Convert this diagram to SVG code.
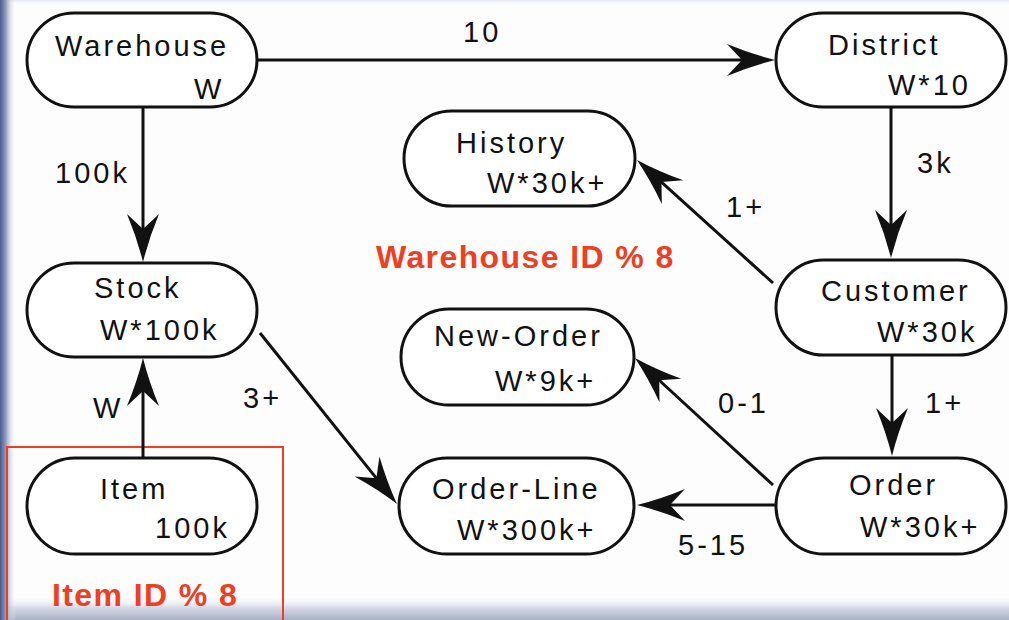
<svg xmlns="http://www.w3.org/2000/svg" width="1009" height="620" viewBox="0 0 1009 620">
  <defs>
    <linearGradient id="edgeLeft" x1="0" y1="0" x2="1" y2="0">
      <stop offset="0" stop-color="#4a5a8e"/>
      <stop offset="0.35" stop-color="#8e9abd"/>
      <stop offset="1" stop-color="#ffffff" stop-opacity="0"/>
    </linearGradient>
    <linearGradient id="edgeBottom" x1="0" y1="0" x2="0" y2="1">
      <stop offset="0" stop-color="#ffffff" stop-opacity="0"/>
      <stop offset="0.5" stop-color="#d4d8e4"/>
      <stop offset="1" stop-color="#aab2c8"/>
    </linearGradient>
    <linearGradient id="edgeTop" x1="0" y1="0" x2="0" y2="1">
      <stop offset="0" stop-color="#e6e9f0"/>
      <stop offset="1" stop-color="#ffffff" stop-opacity="0"/>
    </linearGradient>
    <marker id="arrow" markerUnits="userSpaceOnUse" viewBox="-50 -18 52 36" refX="-20" refY="0" markerWidth="52" markerHeight="36" orient="auto">
      <path d="M0,0 Q-24,-6 -48,-16 L-33,0 L-48,16 Q-24,6 0,0 Z" fill="#111"/>
    </marker>
    <style>
      .node rect { fill: #fff; stroke: #111; stroke-width: 3; }
      .node text, .label { font-family: "Liberation Sans", Arial, sans-serif; font-size: 29px; fill: #111; letter-spacing: 3px; }
      .edge { stroke: #111; stroke-width: 3; fill: none; marker-end: url(#arrow); }
      .part { font-family: "Liberation Sans", Arial, sans-serif; font-size: 32px; font-weight: bold; fill: #ef3e22; letter-spacing: 1.4px; }
    </style>
  </defs>

  <!-- page background with soft slide edges -->
  <rect x="0" y="0" width="1009" height="620" fill="#fdfdfe"/>
  <rect x="0" y="0" width="1009" height="6" fill="url(#edgeTop)"/>
  <rect x="0" y="596" width="1009" height="24" fill="url(#edgeBottom)"/>
  <rect x="0" y="0" width="16" height="620" fill="url(#edgeLeft)"/>

  <!-- partitioning box around Item -->
  <rect x="7" y="447" width="276" height="190" fill="none" stroke="#ef3e22" stroke-width="2"/>
  <text class="part" x="52" y="606">Item ID % 8</text>
  <text class="part" x="376" y="268">Warehouse ID % 8</text>

  <!-- connectors -->
  <g id="edges">
    <line class="edge" x1="258" y1="60" x2="755" y2="60"/>
    <line class="edge" x1="143" y1="108" x2="143" y2="242"/>
    <line class="edge" x1="143" y1="457" x2="143" y2="378"/>
    <line class="edge" x1="891" y1="108" x2="891" y2="238"/>
    <line class="edge" x1="892" y1="356" x2="892" y2="436"/>
    <line class="edge" x1="773" y1="283" x2="651.8" y2="173.4"/>
    <line class="edge" x1="773" y1="485" x2="649.7" y2="371.5"/>
    <line class="edge" x1="260" y1="333" x2="384.5" y2="488.4"/>
    <line class="edge" x1="775" y1="505" x2="657" y2="505"/>
    <text class="label" x="463" y="42">10</text>
    <text class="label" x="55" y="183">100k</text>
    <text class="label" x="917" y="173">3k</text>
    <text class="label" x="726" y="217">1+</text>
    <text class="label" x="243" y="408">3+</text>
    <text class="label" x="93" y="418">W</text>
    <text class="label" x="718" y="413">0-1</text>
    <text class="label" x="925" y="413">1+</text>
    <text class="label" x="678" y="555">5-15</text>
  </g>

  <!-- tables -->
  <g id="warehouse" class="node">
    <rect x="27" y="13" width="230" height="94" rx="47"/>
    <text x="55" y="56">Warehouse</text>
    <text x="194" y="99">W</text>
  </g>
  <g id="district" class="node">
    <rect x="776" y="13" width="230" height="94" rx="47"/>
    <text x="828" y="55">District</text>
    <text x="888" y="95">W*10</text>
  </g>
  <g id="history" class="node">
    <rect x="404" y="111" width="231" height="95" rx="47.5"/>
    <text x="456" y="153">History</text>
    <text x="487" y="193">W*30k+</text>
  </g>
  <g id="stock" class="node">
    <rect x="27" y="263" width="230" height="94" rx="47"/>
    <text x="94" y="298">Stock</text>
    <text x="100" y="340">W*100k</text>
  </g>
  <g id="customer" class="node">
    <rect x="776" y="260" width="230" height="95" rx="47.5"/>
    <text x="821" y="301">Customer</text>
    <text x="877" y="342">W*30k</text>
  </g>
  <g id="new-order" class="node">
    <rect x="401" y="309" width="233" height="96" rx="48"/>
    <text x="434" y="346">New-Order</text>
    <text x="495" y="391">W*9k+</text>
  </g>
  <g id="item" class="node">
    <rect x="27" y="458" width="230" height="96" rx="48"/>
    <text x="100" y="499">Item</text>
    <text x="155" y="538">100k</text>
  </g>
  <g id="order-line" class="node">
    <rect x="399" y="458" width="235" height="96" rx="48"/>
    <text x="432" y="499">Order-Line</text>
    <text x="457" y="540">W*300k+</text>
  </g>
  <g id="order" class="node">
    <rect x="776" y="458" width="230" height="96" rx="48"/>
    <text x="849" y="495">Order</text>
    <text x="860" y="537">W*30k+</text>
  </g>
</svg>
